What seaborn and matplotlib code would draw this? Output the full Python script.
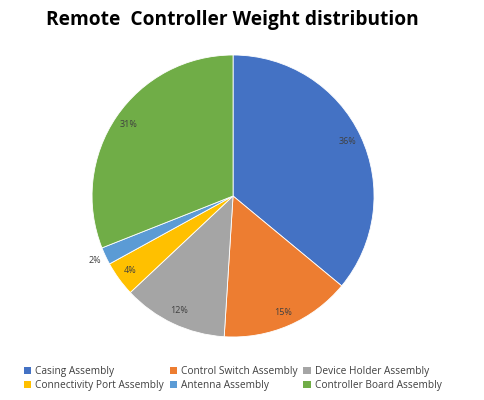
import matplotlib.pyplot as plt
import seaborn as sns
from matplotlib.patches import Patch

sns.set_theme(style="white")
plt.rcParams['font.family'] = ['Open Sans', 'DejaVu Sans']

parts = ['Casing Assembly', 'Control Switch Assembly', 'Device Holder Assembly',
         'Connectivity Port Assembly', 'Antenna Assembly', 'Controller Board Assembly']
shares = [36, 15, 12, 4, 2, 31]
colors = ['#4472C4', '#ED7D31', '#A5A5A5', '#FFC000', '#5B9BD5', '#70AD47']

fig = plt.figure(figsize=(4.84, 4.0), dpi=100)
ax = fig.add_axes([0.190, 0.1575, 0.583, 0.705])

wedges, texts, autotexts = ax.pie(shares, colors=colors, startangle=90, counterclock=False,
                                  autopct='%1.0f%%', pctdistance=0.9,
                                  wedgeprops=dict(edgecolor='white', linewidth=0.6),
                                  textprops=dict(fontsize=6.5, color='#404040'))
# small slice label sits outside the pie
for t, v in zip(autotexts, shares):
    if v < 3:
        x, y = t.get_position()
        t.set_position((x * 1.2, y * 1.2))
ax.set_xlim(-1, 1)
ax.set_ylim(-1, 1)
ax.set_aspect('equal')

fig.suptitle('Remote  Controller Weight distribution', fontsize=13.8, fontweight='bold',
             y=0.975, x=0.48, color='black')

# legend reads row by row, matplotlib fills column by column
order = [0, 3, 1, 4, 2, 5]
handles = [Patch(facecolor=colors[i], edgecolor='none') for i in order]
labels = [parts[i] for i in order]
fig.legend(handles, labels, loc='lower left', bbox_to_anchor=(0.03, 0.0), ncol=3,
           frameon=False, fontsize=7.3, handlelength=0.7, handleheight=0.7,
           handletextpad=0.4, columnspacing=0.6, labelspacing=0.3,
           labelcolor='#404040')

plt.savefig('out.png', dpi=100)
plt.close()
